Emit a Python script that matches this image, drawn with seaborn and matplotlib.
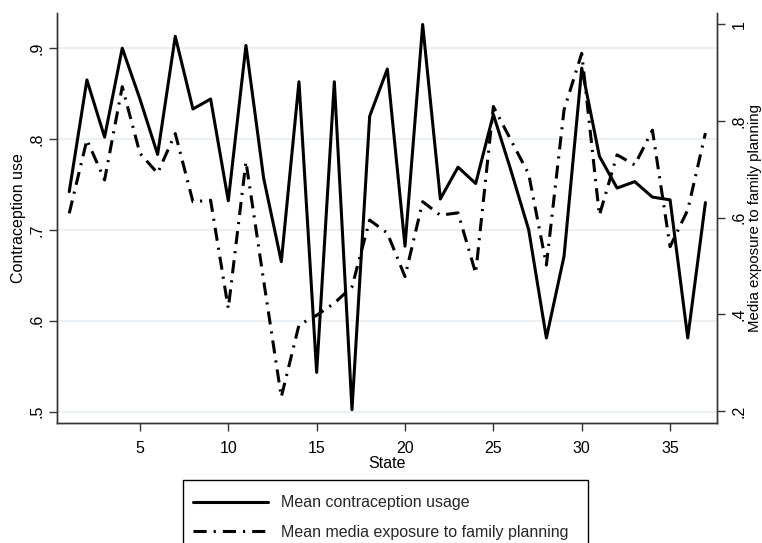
import numpy as np
import pandas as pd
import matplotlib
matplotlib.use('Agg')
import matplotlib.pyplot as plt
from matplotlib.patches import Rectangle
import seaborn as sns

# values
states = list(range(1, 38))
contraception = [.742, .865, .802, .900, .844, .783, .913, .833, .844, .732,
                 .903, .757, .665, .863, .543, .863, .502, .825, .877, .682,
                 .926, .734, .769, .751, .827, .765, .700, .581, .671, .878,
                 .781, .746, .753, .736, .733, .581, .730]
media = [.609, .761, .678, .871, .733, .692, .774, .633, .636, .412,
         .716, .470, .229, .378, .398, .423, .457, .595, .568, .478,
         .633, .605, .610, .485, .830, .760, .690, .502, .823, .940,
         .605, .730, .709, .781, .540, .616, .775]
x_ticks = [5, 10, 15, 20, 25, 30, 35]
left_ticks = [.5, .6, .7, .8, .9]
left_labels = ['.5', '.6', '.7', '.8', '.9']
right_ticks = [.2, .4, .6, .8, 1.0]
right_labels = ['.2', '.4', '.6', '.8', '1']

df = pd.DataFrame({'State': states, 'contraception': contraception, 'media': media})

sns.set_style('white')
plt.rcParams['font.family'] = ['Liberation Sans', 'DejaVu Sans']
fs = 11.5
grid_col = '#e6eef2'
spine_col = '#333333'
W, H = 762, 543

fig = plt.figure(figsize=(7.62, 5.43), dpi=100)
ax = fig.add_axes([0.0744, 0.2204, 0.8662, 0.7562])
ax2 = ax.twinx()

sns.lineplot(data=df, x='State', y='contraception', ax=ax, color='black',
             lw=2.2, label='Mean contraception usage', legend=False)
sns.lineplot(data=df, x='State', y='media', ax=ax2, color='black',
             lw=2.2, label='Mean media exposure to family planning', legend=False)
ax2.lines[0].set_linestyle((0, (4.3, 2.3, 0.7, 2.3)))

ax.set_xlim(0.29, 37.64)
ax.set_ylim(0.487, 0.939)
ax2.set_ylim(0.1745, 1.024)

ax.set_xticks(x_ticks)
ax.set_yticks(left_ticks)
ax.set_yticklabels(left_labels)
ax2.set_yticks(right_ticks)
ax2.set_yticklabels(right_labels)

for y in left_ticks:
    ax.axhline(y, color=grid_col, lw=1.2, zorder=0)

for a in (ax, ax2):
    a.spines['top'].set_visible(False)
    for s in ('left', 'right', 'bottom'):
        a.spines[s].set_color(spine_col)
        a.spines[s].set_linewidth(1.0)

ax.tick_params(axis='x', direction='out', length=6, width=1, color=spine_col,
               labelsize=fs, labelcolor='black', pad=6.5, bottom=True)
ax.tick_params(axis='y', direction='out', length=6, width=1, color=spine_col,
               labelsize=fs, labelcolor='black', pad=3, left=True, labelrotation=90)
ax2.tick_params(axis='y', direction='out', length=6, width=1, color=spine_col,
                labelsize=fs, labelcolor='black', pad=4.5, right=True, labelrotation=90)
for t in ax.get_yticklabels() + ax2.get_yticklabels():
    t.set_va('center')

ax.set_xlabel('State', fontsize=fs, labelpad=0.5, color='black')
ax.set_ylabel('Contraception use', fontsize=fs, labelpad=2, color='black')
ax2.set_ylabel('Media exposure to family planning', fontsize=10.8, color='black')
ax2.yaxis.set_label_coords((747.5 - 56.7) / 660, 0.5)

# legend box drawn separately so the entries can sit where the reference has them
fig.patches.append(Rectangle((183 / W, -0.05), 405 / W, 0.05 + 1 - 480 / H,
                             transform=fig.transFigure, fill=False,
                             edgecolor='black', lw=1.0))
handles = ax.lines[:1] + ax2.lines[:1]
labels = ['Mean contraception usage', 'Mean media exposure to family planning']
fig.legend(handles, labels, loc='upper left',
           bbox_to_anchor=(193.4 / W, 1 - 495.2 / H),
           fontsize=fs, frameon=False,
           handlelength=4.7, handletextpad=0.8, labelspacing=0.9,
           borderpad=0, borderaxespad=0)

plt.savefig('out.png', dpi=100)
